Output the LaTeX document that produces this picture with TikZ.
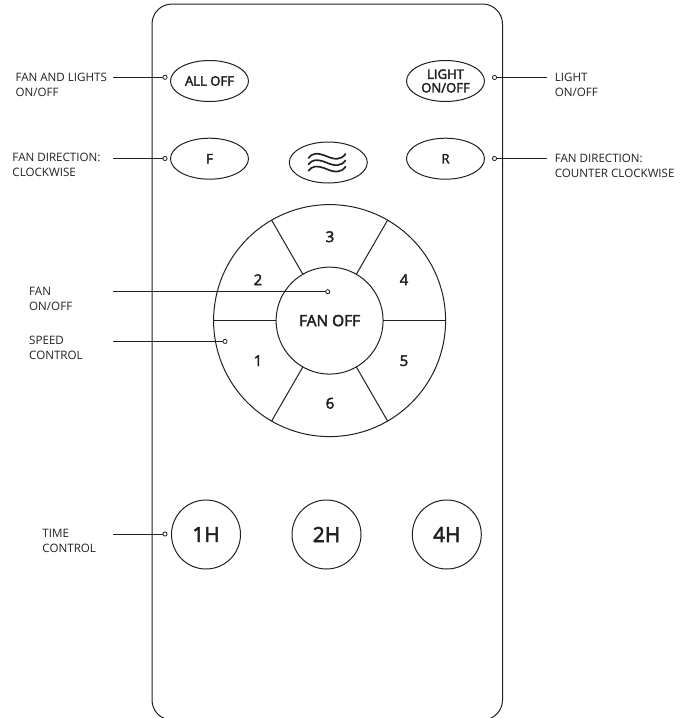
\documentclass[tikz,border=0pt]{standalone}
\usepackage{fontspec}
\setmainfont{Open Sans}
\newfontfamily\semi[FakeBold=2.8]{Open Sans}
\usetikzlibrary{shapes.geometric}
\definecolor{ink}{HTML}{231F20}
\begin{document}
\begin{tikzpicture}[x=0.75pt,y=-0.75pt,line width=0.75pt,
  oval/.style={ellipse,draw=ink,minimum width=78*0.75pt,minimum height=41*0.75pt,inner sep=0pt,outer sep=0pt,align=center,text=ink,font=\fontsize{9.8pt}{10.2pt}\semi},
  timer/.style={circle,draw=ink,minimum size=69*0.75pt,inner sep=0pt,outer sep=0pt,text=ink,font=\fontsize{15.6pt}{17pt}\semi},
  num/.style={text=ink,inner sep=0pt,font=\fontsize{11.2pt}{13pt}\semi},
  dot/.style={circle,draw=ink,fill=white,minimum size=4.2*0.75pt,inner sep=0pt,outer sep=0pt,line width=0.6pt},
  lab/.style={anchor=west,align=left,inner sep=0pt,text=ink,font=\fontsize{8.7pt}{11.2pt}\selectfont},
  lead/.style={draw=ink,line width=0.7pt},
  wave/.style={draw=ink,line width=1.25pt,line cap=round}]
\useasboundingbox (0,0) rectangle (690,718);
% remote body
\node[draw=ink,rounded corners=15pt,minimum width=350.5*0.75pt,minimum height=716*0.75pt,inner sep=0pt,outer sep=0pt] (body) at (327.25,362) {};
% top row buttons
\node[oval] (alloff) at (209.5,81) {ALL OFF};
\node[oval] (light) at (445.5,81) {LIGHT\\ON/OFF};
\node[oval] (fbtn) at (209.5,158.7) {F};
\node[oval] (wavebtn) at (328.3,162.5) {};
\node[oval] (rbtn) at (445.5,158.7) {R};
\foreach \d in {0,6.4,12.8}
  \draw[wave] (308.5,158+\d) .. controls (312,153+\d) and (317,152.5+\d) .. (326,156+\d) .. controls (335,160+\d) and (341,160+\d) .. (345.5,154+\d);
% wheel
\node[circle,draw=ink,minimum size=232*0.75pt,inner sep=0pt,outer sep=0pt] (wheel) at (329.6,320.6) {};
\node[circle,draw=ink,minimum size=107*0.75pt,inner sep=0pt,outer sep=0pt,text=ink,font=\fontsize{11.6pt}{13pt}\semi] (fanoff) at (329.6,320.6) {FAN OFF};
\foreach \a in {0,60,120,180,240,300}
  \draw[draw=ink] (wheel.\a) -- (fanoff.\a);
\node[num] (s1) at (258,360.7) {1};
\node[num] (s2) at (258,279.7) {2};
\node[num] (s3) at (330,236.7) {3};
\node[num] (s4) at (404,279.7) {4};
\node[num] (s5) at (404,360.7) {5};
\node[num] (s6) at (330,403.3) {6};
% timers
\node[timer] (t1) at (206,534.5) {1H};
\node[timer] (t2) at (326.5,534.5) {2H};
\node[timer] (t4) at (446.8,534.5) {4H};
% callout dots
\node[dot] (d1) at (165,77.3) {};
\node[dot] (d2) at (165,158.5) {};
\node[dot] (d3) at (494.5,77.5) {};
\node[dot] (d4) at (494.5,158.5) {};
\node[dot] (d5) at (327.7,291.7) {};
\node[dot] (d6) at (225,341.4) {};
\node[dot] (d7) at (165,534) {};
% callout ends
\coordinate (e1) at (113,77.3);
\coordinate (e2) at (113,158.5);
\coordinate (e3) at (546.5,77.5);
\coordinate (e4) at (546.5,158.5);
\coordinate (e5) at (113,291.7);
\coordinate (e6) at (113,341.4);
\coordinate (e7) at (113,534);
\foreach \i in {1,...,7} \draw[lead] (e\i) -- (d\i);
% labels
\node[lab] (l1) at (15,84.5) {FAN AND LIGHTS\\ON/OFF};
\node[lab] (l2) at (12,165) {FAN DIRECTION:\\CLOCKWISE};
\node[lab] (l3) at (554.3,84.5) {LIGHT\\ON/OFF};
\node[lab] (l4) at (554.3,165.5) {FAN DIRECTION:\\COUNTER CLOCKWISE};
\node[lab] (l5) at (28.7,298.5) {FAN\\ON/OFF};
\node[lab] (l6) at (28.7,348) {SPEED\\CONTROL};
\node[lab] (l7) at (42,540.5) {TIME\\CONTROL};
\end{tikzpicture}
\end{document}
